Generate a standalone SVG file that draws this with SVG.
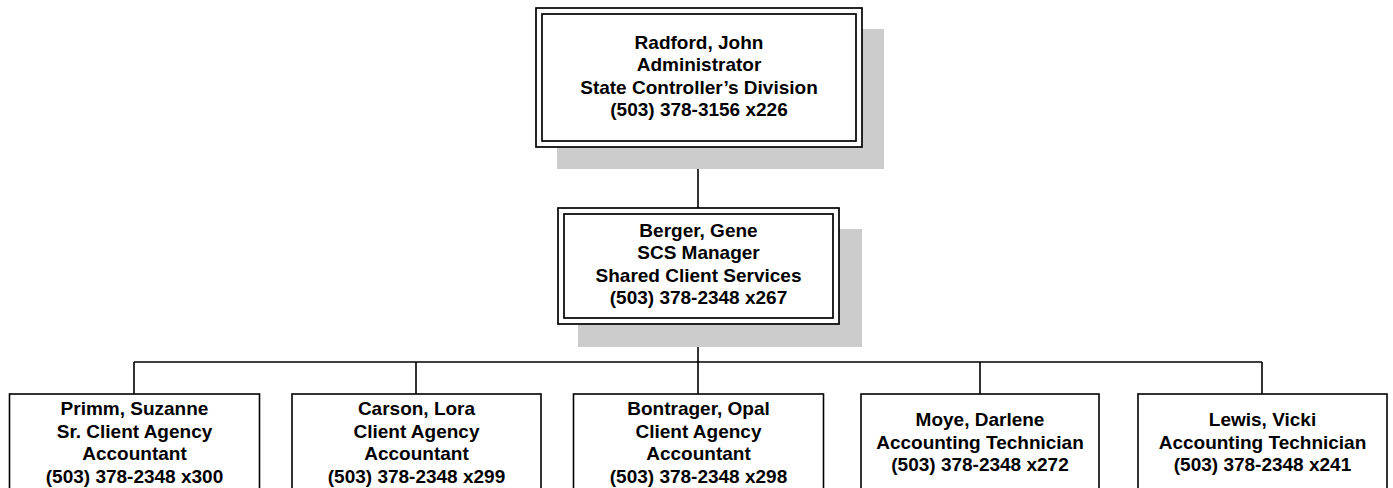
<svg xmlns="http://www.w3.org/2000/svg" width="1393" height="488" viewBox="0 0 1393 488">
  <style>
    .bg { fill: #ffffff; }
    .shadow { fill: #cccccc; stroke: none; }
    .frame { fill: #ffffff; stroke: #000000; stroke-width: 1.7; }
    .inner { fill: none; stroke: #000000; stroke-width: 1.7; }
    .box { fill: #ffffff; stroke: #000000; stroke-width: 1.6; }
    .wire { fill: none; stroke: #000000; stroke-width: 1.6; }
    text { font-family: "Liberation Sans", Arial, sans-serif; font-weight: bold; font-size: 19px; fill: #000000; text-anchor: middle; }
  </style>
  <rect class="bg" x="0" y="0" width="1393" height="488"/>

  <!-- reporting lines -->
  <g id="connectors">
    <path class="wire" d="M698 147 V208"/>
    <path class="wire" d="M698 324 V362"/>
    <path class="wire" d="M134 362 H1262"/>
    <path class="wire" d="M134 362 V394 M416 362 V394 M698 362 V394 M980 362 V394 M1262 362 V394"/>
  </g>

  <g id="radford">
    <rect class="shadow" x="557" y="29" width="327" height="140"/>
    <rect class="frame" x="536" y="8" width="326" height="139"/>
    <rect class="inner" x="542" y="14" width="314" height="127"/>
    <text x="699" y="48.5">Radford, John</text>
    <text x="699" y="71">Administrator</text>
    <text x="699" y="93.5">State Controller’s Division</text>
    <text x="699" y="116">(503) 378-3156 x226</text>
  </g>

  <g id="berger">
    <rect class="shadow" x="578" y="229" width="284" height="118"/>
    <rect class="frame" x="558" y="208" width="281" height="116"/>
    <rect class="inner" x="564" y="214" width="269" height="104"/>
    <text x="698.5" y="236.5">Berger, Gene</text>
    <text x="698.5" y="259">SCS Manager</text>
    <text x="698.5" y="281.5">Shared Client Services</text>
    <text x="698.5" y="304">(503) 378-2348 x267</text>
  </g>

  <g id="primm">
    <rect class="box" x="9.5" y="394" width="250" height="110"/>
    <text x="134.5" y="415">Primm, Suzanne</text>
    <text x="134.5" y="437.5">Sr. Client Agency</text>
    <text x="134.5" y="460">Accountant</text>
    <text x="134.5" y="482.5">(503) 378-2348 x300</text>
  </g>

  <g id="carson">
    <rect class="box" x="292" y="394" width="249" height="110"/>
    <text x="416.5" y="415">Carson, Lora</text>
    <text x="416.5" y="437.5">Client Agency</text>
    <text x="416.5" y="460">Accountant</text>
    <text x="416.5" y="482.5">(503) 378-2348 x299</text>
  </g>

  <g id="bontrager">
    <rect class="box" x="573.5" y="394" width="250" height="110"/>
    <text x="698.5" y="415">Bontrager, Opal</text>
    <text x="698.5" y="437.5">Client Agency</text>
    <text x="698.5" y="460">Accountant</text>
    <text x="698.5" y="482.5">(503) 378-2348 x298</text>
  </g>

  <g id="moye">
    <rect class="box" x="861" y="394" width="238" height="110"/>
    <text x="980" y="426">Moye, Darlene</text>
    <text x="980" y="448.5">Accounting Technician</text>
    <text x="980" y="471">(503) 378-2348 x272</text>
  </g>

  <g id="lewis">
    <rect class="box" x="1138" y="394" width="249" height="110"/>
    <text x="1262.5" y="426">Lewis, Vicki</text>
    <text x="1262.5" y="448.5">Accounting Technician</text>
    <text x="1262.5" y="471">(503) 378-2348 x241</text>
  </g>
</svg>
